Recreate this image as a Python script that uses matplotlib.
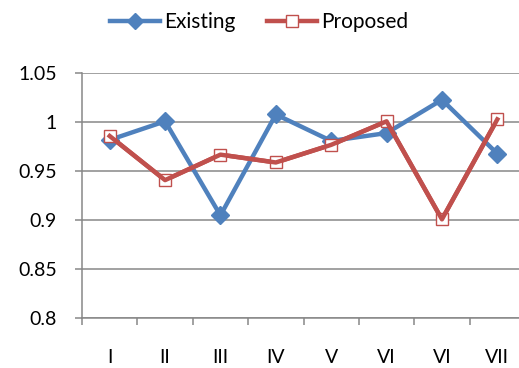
import numpy as np
import matplotlib
matplotlib.use("Agg")
import matplotlib.pyplot as plt
from matplotlib.lines import Line2D

plt.rcParams['font.family'] = ['Lato', 'DejaVu Sans']

categories = ['I', 'II', 'III', 'IV', 'V', 'VI', 'VI', 'VII']
existing = [0.982, 1.001, 0.905, 1.008, 0.981, 0.989, 1.023, 0.968]
proposed = [0.986, 0.941, 0.967, 0.959, 0.977, 1.001, 0.901, 1.003]
yticks = [0.8, 0.85, 0.9, 0.95, 1.0, 1.05]
ytick_labels = ['0.8', '0.85', '0.9', '0.95', '1', '1.05']

blue = '#4F81BD'
red = '#C0504D'
grid_col = '#878787'

fig = plt.figure(figsize=(5.19, 3.68), dpi=100)
ax = fig.add_axes([82 / 519, 1 - 318.3 / 368, 443 / 519, 245 / 368])

x = np.arange(1, len(categories) + 1)
ax.plot(x, existing, color=blue, lw=3.2, marker='D', ms=9.5,
        mfc=blue, mec=blue, zorder=3, label='Existing')
ax.plot(x, proposed, color=red, lw=3.2, marker='s', ms=9,
        mfc='white', mec=red, mew=1.0, zorder=4, label='Proposed')
# redraw the red line over its own open markers
ax.plot(x, proposed, color=red, lw=3.2, zorder=5)

ax.set_xlim(0.5, len(categories) + 0.5)
ax.set_ylim(0.8, 1.05)
ax.set_yticks(yticks)
ax.set_yticklabels(ytick_labels)
ax.set_xticks(x)
ax.set_xticklabels(categories)
ax.set_xticks(np.arange(0.5, len(categories) + 1, 1), minor=True)

ax.grid(axis='y', color=grid_col, lw=1.1, zorder=0)
ax.set_axisbelow(True)
for s in ['top', 'right']:
    ax.spines[s].set_visible(False)
for s in ['left', 'bottom']:
    ax.spines[s].set_color(grid_col)
    ax.spines[s].set_linewidth(1.1)

ax.tick_params(axis='x', which='major', length=0, pad=22, labelsize=14)
ax.tick_params(axis='x', which='minor', length=5, width=1.1, color=grid_col, direction='out')
ax.tick_params(axis='y', length=5, width=1.1, color=grid_col, pad=13, labelsize=14)

handles = [
    Line2D([], [], color=blue, lw=3.2, marker='D', ms=8, mfc=blue, mec=blue),
    Line2D([], [], color=red, lw=3.2, marker='s', ms=9, mfc='white', mec=red, mew=1.0),
]
fig.legend(handles, ['Existing', 'Proposed'], loc='center', bbox_to_anchor=(0.5, 1 - 22 / 368),
           ncol=2, frameon=False, fontsize=15, handlelength=2.4, handletextpad=0.2,
           columnspacing=1.5)

fig.savefig('out.png', dpi=100)
